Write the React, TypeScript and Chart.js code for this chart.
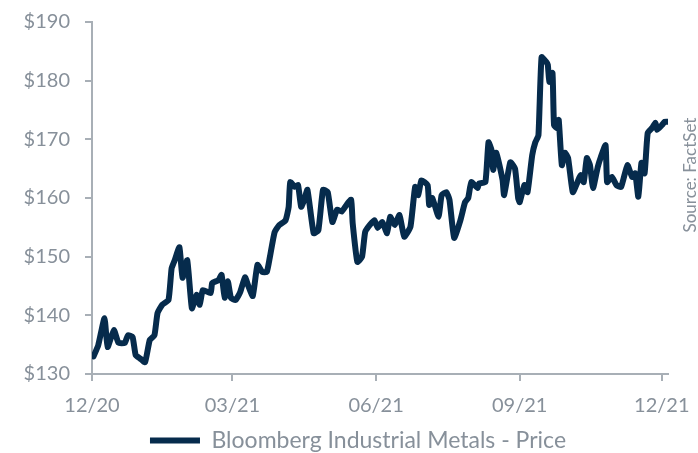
import React, { useEffect, useRef } from "react";
import { Chart, registerables } from "chart.js";

Chart.register(...registerables);

// Days since 2020-12-01
const days = [
  1, 4, 8, 10, 14, 17, 21, 23, 26, 28, 31, 34, 37, 40, 42, 45, 49, 51, 53, 56,
  58, 61, 64, 67, 69, 71, 76, 77, 81, 83, 85, 87, 89, 92, 95, 98, 100, 103, 106,
  109, 112, 114, 117, 120, 124, 126, 127, 130, 132, 134, 136, 138, 142, 145, 148,
  151, 154, 157, 160, 163, 166, 167, 170, 173, 175, 178, 181, 183, 186, 189, 191,
  194, 197, 200, 204, 207, 209, 211, 215, 216, 218, 222, 224, 227, 229, 232, 236,
  239, 241, 243, 247, 248, 252, 254, 256, 257, 259, 263, 264, 268, 271, 273, 274,
  277, 279, 282, 284, 286, 288, 291, 292, 293, 295, 296, 298, 299, 301, 303, 305,
  308, 311, 313, 315, 317, 319, 321, 324, 326, 329, 330, 333, 336, 339, 343, 346,
  348, 350, 352, 354, 356, 359, 361, 362, 365, 367, 369,
];

const prices = [
  133.0, 134.9, 139.5, 134.6, 137.5, 135.3, 135.3, 136.6, 136.3, 133.2, 132.6,
  132.0, 135.8, 136.6, 140.4, 141.8, 142.6, 148.0, 149.4, 151.6, 146.4, 149.4,
  141.2, 143.5, 141.8, 144.3, 143.8, 145.5, 146.0, 146.9, 143.0, 145.8, 143.0,
  142.6, 144.0, 146.5, 145.1, 143.3, 148.6, 147.4, 147.4, 150.0, 154.2, 155.4,
  156.2, 158.5, 162.7, 161.9, 162.2, 158.5, 159.7, 161.4, 154.0, 154.5, 161.4,
  161.0, 155.9, 158.0, 157.7, 158.8, 159.7, 155.7, 149.1, 150.0, 154.2, 155.4,
  156.2, 154.9, 155.9, 154.0, 156.8, 155.4, 157.1, 153.4, 155.1, 161.9, 160.5,
  163.0, 162.2, 158.8, 160.0, 156.8, 160.5, 161.0, 159.7, 153.2, 156.2, 159.3,
  160.0, 162.7, 161.7, 162.5, 162.7, 169.5, 168.1, 164.8, 167.7, 163.1, 160.5,
  166.1, 165.0, 160.0, 159.3, 162.2, 161.0, 167.3, 169.5, 170.7, 184.0, 183.2,
  182.7, 179.8, 181.3, 172.4, 171.9, 173.3, 165.6, 167.7, 166.8, 161.0, 162.7,
  163.9, 162.7, 166.8, 165.6, 161.7, 165.3, 167.0, 169.0, 162.7, 163.6, 162.2,
  161.9, 165.6, 163.6, 164.2, 160.2, 166.0, 164.2, 171.1, 172.0, 172.8, 171.6,
  172.4, 173.0, 173.0,
];

const tickDays = [0, 90, 182, 274, 365];
const tickLabels = ["12/20", "03/21", "06/21", "09/21", "12/21"];

const seriesLabel = "Bloomberg Industrial Metals - Price";
const sourceText = "Source: FactSet";

const LINE = "#062b4c";
const AXIS = "#a8afb6";
const TEXT = "#87909a";
const FONT = "Lato";

export default function App() {
  const ref = useRef<HTMLCanvasElement | null>(null);

  useEffect(() => {
    if (!ref.current) return;
    const sourcePlugin = {
      id: "sourceText",
      afterLayout(chart: any) {
        // nudge the legend to the right, as in the reference
        if (chart.legend) {
          chart.legend.left += 13;
          chart.legend.right += 13;
        }
      },
      afterDraw(chart: any) {
        const ctx = chart.ctx;
        ctx.save();
        ctx.translate(691, 175);
        ctx.rotate(-Math.PI / 2);
        ctx.fillStyle = TEXT;
        ctx.font = `17px ${FONT}`;
        ctx.textAlign = "center";
        ctx.textBaseline = "middle";
        ctx.fillText(sourceText, 0, 0);
        ctx.restore();
      },
    };
    const chart = new Chart(ref.current, {
      type: "line",
      data: {
        datasets: [
          {
            label: seriesLabel,
            data: days.map((d, i) => ({ x: d, y: prices[i] })),
            borderColor: LINE,
            backgroundColor: LINE,
            borderWidth: 6,
            pointRadius: 0,
            tension: 0.15,
            borderJoinStyle: "round",
            borderCapStyle: "round",
            pointStyle: "line",
          },
        ],
      },
      options: {
        animation: false,
        responsive: true,
        maintainAspectRatio: false,
        layout: { padding: { top: 22, right: 30, left: 22, bottom: -9 } },
        plugins: {
          tooltip: { enabled: false },
          legend: {
            position: "bottom",
            labels: {
              usePointStyle: true,
              pointStyleWidth: 50,
              color: TEXT,
              font: { family: FONT, size: 23 },
              padding: 0,
            },
          },
        },
        scales: {
          x: {
            type: "linear",
            min: 0,
            max: 369,
            afterBuildTicks: (scale: any) => {
              scale.ticks = tickDays.map((v) => ({ value: v }));
            },
            afterFit: (scale: any) => {
              scale.height = 55;
            },
            ticks: {
              color: TEXT,
              font: { family: FONT, size: 20, lineHeight: 2 },
              padding: 5,
              maxRotation: 0,
              autoSkip: false,
              callback: (v: any) => {
                const i = tickDays.indexOf(Number(v));
                return i >= 0 ? tickLabels[i] : null;
              },
            },
            grid: {
              display: true,
              drawOnChartArea: false,
              drawTicks: true,
              tickLength: 7,
              color: AXIS,
              lineWidth: 2,
            },
            border: { display: true, color: AXIS, width: 2 },
          },
          y: {
            min: 130,
            max: 190,
            afterFit: (scale: any) => {
              scale.width = 70;
            },
            ticks: {
              stepSize: 10,
              color: TEXT,
              font: { family: FONT, size: 20, lineHeight: 0.7 },
              padding: 15,
              callback: (v: any) => "$" + v,
            },
            grid: {
              display: true,
              drawOnChartArea: false,
              drawTicks: true,
              tickLength: 7,
              color: AXIS,
              lineWidth: 2,
            },
            border: { display: true, color: AXIS, width: 2 },
          },
        },
      },
      plugins: [sourcePlugin],
    });
    return () => chart.destroy();
  }, []);

  return (
    <div
      style={{
        position: "fixed",
        left: 0,
        top: 0,
        width: 698,
        height: 453,
        background: "#fff",
      }}
    >
      <canvas ref={ref} />
    </div>
  );
}
